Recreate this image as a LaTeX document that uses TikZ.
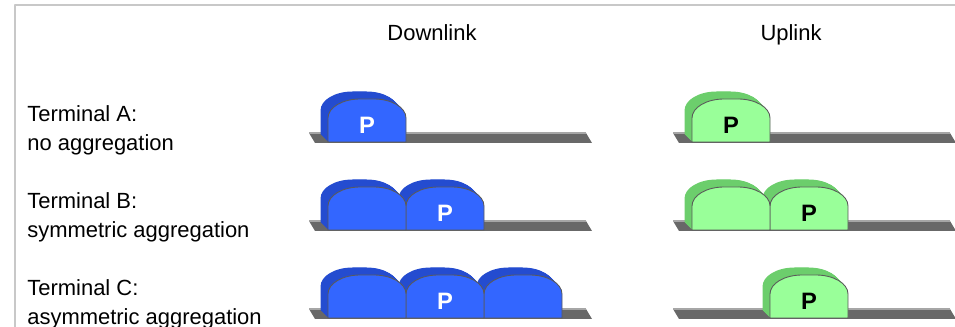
\documentclass[tikz,border=0pt]{standalone}
\usepackage{fontspec}
\setmainfont{Liberation Sans}
\usetikzlibrary{positioning}

\definecolor{dlfront}{RGB}{51,102,255}
\definecolor{dlback}{RGB}{36,76,208}
\definecolor{ulfront}{RGB}{153,255,153}
\definecolor{ulback}{RGB}{108,206,108}
\definecolor{edge}{RGB}{90,90,90}
\definecolor{floor}{RGB}{104,104,104}
\definecolor{frame}{RGB}{200,200,200}

% one packet: x, y of the front corner, front colour, side colour
\newcommand{\packetbox}[4]{%
	\foreach \k in {7.5,7,...,0.5}
		\fill[#4] ([shift={(-\k,\k)}]#1,#2) -- ++(0,24) arc (180:90:32 and 19) -- ++(14,0) arc (90:0:32 and 19) -- ++(0,-24) -- cycle;
	\filldraw[fill=#3, draw=edge, line width=0.5pt] (#1,#2) -- ++(0,24) arc (180:90:32 and 19) -- ++(14,0) arc (90:0:32 and 19) -- ++(0,-24) -- cycle;
}

\begin{document}
\begin{tikzpicture}[x=0.02cm, y=0.02cm, line join=round,
	lbl/.style={inner sep=0pt, font=\fontsize{12.5}{16.4}\selectfont},
	ptxt/.style={inner sep=0pt, font=\fontsize{13.5}{16}\selectfont\bfseries}]
	\useasboundingbox (0,0) rectangle (955,327);
	\draw[frame, line width=0.6pt] (15,0) -- (15,322) -- (955,322);
	% column and row titles
	\node[lbl, anchor=base] (down) at (432,286) {Downlink};
	\node[lbl, anchor=base] (up) at (791,286) {Uplink};
	\node[lbl, anchor=north west, align=left] (termA) at (27,222) {Terminal A:\\no aggregation};
	\node[lbl, anchor=north west, align=left] (termB) at (27,135) {Terminal B:\\symmetric aggregation};
	\node[lbl, anchor=north west, align=left] (termC) at (27,48) {Terminal C:\\asymmetric aggregation};
	% floors
	\foreach \b in {185,97,9}
		\foreach \x in {309,673}{
			\fill[floor] (\x,\b+9) -- (\x+277,\b+9) -- (\x+283,\b-1) -- (\x+6,\b-1) -- cycle;
			\draw[gray!70, line width=0.6pt] (\x,\b+9) -- (\x+277,\b+9);
		}
	% terminal A
	\packetbox{328}{185}{dlfront}{dlback}
	\packetbox{692}{185}{ulfront}{ulback}
	% terminal B
	\packetbox{406}{97}{dlfront}{dlback}
	\packetbox{328}{97}{dlfront}{dlback}
	\packetbox{770}{97}{ulfront}{ulback}
	\packetbox{692}{97}{ulfront}{ulback}
	% terminal C
	\packetbox{484}{9}{dlfront}{dlback}
	\packetbox{406}{9}{dlfront}{dlback}
	\packetbox{328}{9}{dlfront}{dlback}
	\packetbox{770}{9}{ulfront}{ulback}
	% primary packets
	\node[ptxt, white] (pA) at (367,202) {P};
	\node[ptxt, white] (pB) at (445,114) {P};
	\node[ptxt, white] (pC) at (445,26) {P};
	\node[ptxt] (qA) at (731,202) {P};
	\node[ptxt] (qB) at (809,114) {P};
	\node[ptxt] (qC) at (809,26) {P};
\end{tikzpicture}
\end{document}
